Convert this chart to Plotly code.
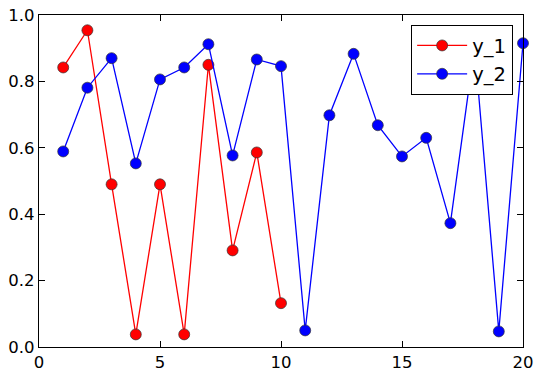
import plotly.graph_objects as go

x1 = [1, 2, 3, 4, 5, 6, 7, 8, 9, 10]
y1 = [0.842, 0.954, 0.490, 0.038, 0.490, 0.038, 0.850, 0.291, 0.586, 0.132]

x2 = list(range(1, 21))
y2 = [0.589, 0.781, 0.870, 0.553, 0.806, 0.842, 0.912, 0.577, 0.866, 0.846,
      0.050, 0.698, 0.883, 0.668, 0.574, 0.630, 0.373, 0.905, 0.047, 0.915]

x_ticks = [0, 5, 10, 15, 20]
y_ticks = [0.0, 0.2, 0.4, 0.6, 0.8, 1.0]

fig = go.Figure()
fig.add_trace(go.Scatter(
    x=x1, y=y1, name="y_1", mode="lines+markers",
    line=dict(color="#ff0000", width=1.3),
    marker=dict(color="#ff0000", size=11, line=dict(color="#333333", width=0.7)),
    cliponaxis=False,
))
fig.add_trace(go.Scatter(
    x=x2, y=y2, name="y_2", mode="lines+markers",
    line=dict(color="#0000ff", width=1.3),
    marker=dict(color="#0000ff", size=11, line=dict(color="#333333", width=0.7)),
    cliponaxis=False,
))

axis_common = dict(
    showgrid=False, zeroline=False, showline=True, linecolor="black", linewidth=1.3,
    mirror="ticks", ticks="inside", ticklen=6, tickwidth=1, tickcolor="black",
    tickfont=dict(family="DejaVu Sans", size=16.5, color="black"),
    automargin=False,
)
fig.update_xaxes(range=[0, 20], tickvals=x_ticks, ticktext=[str(v) for v in x_ticks], **axis_common)
fig.update_yaxes(range=[0, 1], tickvals=y_ticks, ticktext=[f"{v:.1f}" for v in y_ticks], **axis_common)

fig.update_layout(
    width=542, height=377,
    margin=dict(l=39, r=19, t=15, b=30, autoexpand=False),
    plot_bgcolor="white", paper_bgcolor="white",
    font=dict(family="DejaVu Sans", size=16, color="black"),
    legend=dict(
        x=0.979, y=0.970, xanchor="right", yanchor="top",
        bgcolor="white", bordercolor="black", borderwidth=1.3,
        font=dict(family="DejaVu Sans", size=19.5, color="black"),
        itemwidth=50, tracegroupgap=6,
    ),
)

fig.write_html(
    "out.html",
    config={"displayModeBar": False},
    post_script="document.body.style.margin='0';document.body.style.overflow='hidden';",
)
